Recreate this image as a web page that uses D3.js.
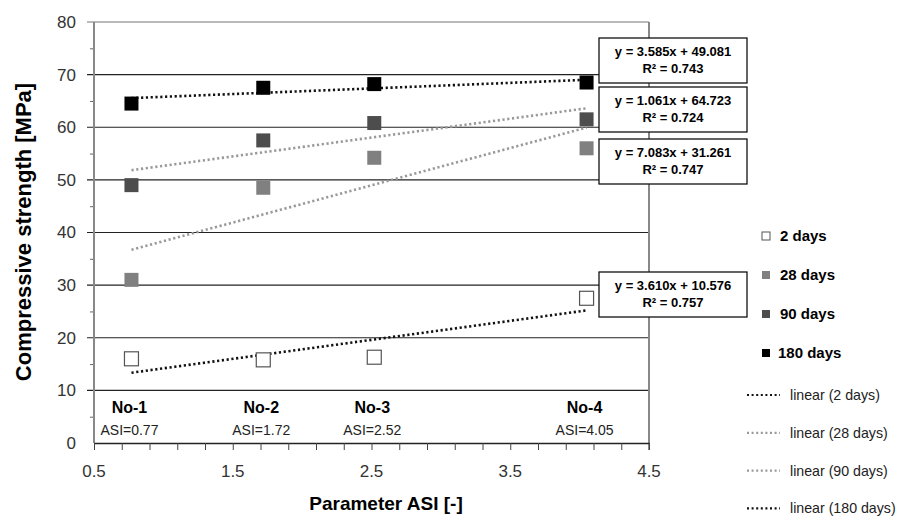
<!DOCTYPE html>
<html lang="en">
<head>
<meta charset="UTF-8">
<script src="https://cdn.jsdelivr.net/npm/d3@7/dist/d3.min.js"></script>
<title>Compressive strength vs ASI</title>
<style>
    body { margin: 0; background: #fff; }
    svg { font-family: Arial, "Liberation Sans", sans-serif; }
</style>
</head>
<body>
<script>
    // data
    var asi = [0.77, 1.72, 2.52, 4.05];
    var samples = ["No-1", "No-2", "No-3", "No-4"];
    var series = ["2 days", "28 days", "90 days", "180 days"];
    var days2 = [16.0, 15.8, 16.3, 27.5];
    var days28 = [31.0, 48.5, 54.2, 56.0];
    var days90 = [49.0, 57.5, 60.8, 61.5];
    var days180 = [64.5, 67.5, 68.2, 68.5];
    // trend lines: slope, intercept, r2
    var slopes = [3.610, 7.083, 3.585, 1.061];
    var intercepts = [10.576, 31.261, 49.081, 64.723];
    var r2 = [0.757, 0.747, 0.743, 0.724];
    var yTicks = [0, 10, 20, 30, 40, 50, 60, 70, 80];
    var xTicks = [0.5, 1.5, 2.5, 3.5, 4.5];

    var values = [days2, days28, days90, days180];
    var fills = ["#fff", "#808080", "#4d4d4d", "#000"];
    var strokes = ["#555", "#808080", "#4d4d4d", "#000"];
    var lineColors = ["#111", "#999", "#999", "#111"];

    var width = 898, height = 518;
    var svg = d3.select("body").append("svg").attr("width", width).attr("height", height);

    var x = d3.scaleLinear().domain([0.5, 4.5]).range([94, 649]);
    var y = d3.scaleLinear().domain([0, 80]).range([443, 22]);

    // grid lines
    svg.append("g").selectAll("line")
        .data(yTicks.slice(1))
        .enter().append("line")
        .attr("x1", x(0.5) - 7).attr("x2", x(4.5))
        .attr("y1", function(d) { return y(d); })
        .attr("y2", function(d) { return y(d); })
        .attr("stroke", function(d) { return d == 80 ? "#777" : "#222"; })
        .attr("stroke-width", 1.2);

    // y axis
    var yAxis = svg.append("g").attr("transform", "translate(" + x(0.5) + ",0)")
        .call(d3.axisLeft(y).tickValues(d3.range(5, 80, 10)).tickSize(4).tickFormat(""));
    yAxis.selectAll("line").attr("stroke", "#666");
    yAxis.select(".domain").remove();
    svg.append("line").attr("x1", x(0.5)).attr("x2", x(0.5)).attr("y1", y(80)).attr("y2", y(0))
        .attr("stroke", "#888").attr("stroke-width", 2);
    svg.append("line").attr("x1", x(4.5)).attr("x2", x(4.5)).attr("y1", y(80)).attr("y2", y(0) + 7)
        .attr("stroke", "#888").attr("stroke-width", 2);
    svg.append("g").selectAll("text")
        .data(yTicks)
        .enter().append("text")
        .attr("x", 76).attr("y", function(d) { return y(d); })
        .attr("dy", "0.35em").attr("text-anchor", "end")
        .attr("font-size", 17).attr("fill", "#333")
        .text(function(d) { return d; });

    // x axis
    var xAxis = svg.append("g").attr("transform", "translate(0," + y(0) + ")")
        .call(d3.axisBottom(x).tickValues(d3.range(0, 21).map(function(i) { return 0.5 + i * 0.2; }))
            .tickSize(7).tickFormat("").tickSizeOuter(0));
    xAxis.selectAll("line").attr("stroke", "#444");
    xAxis.select(".domain").attr("stroke", "#222").attr("stroke-width", 1.5);
    svg.append("g").selectAll("text")
        .data(xTicks)
        .enter().append("text")
        .attr("x", function(d) { return x(d); }).attr("y", 477)
        .attr("text-anchor", "middle").attr("font-size", 17).attr("fill", "#333")
        .text(d3.format(".1f"));

    // axis titles
    svg.append("text")
        .attr("transform", "translate(31,232) rotate(-90)")
        .attr("text-anchor", "middle").attr("font-size", 22).attr("font-weight", "bold")
        .text("Compressive strength [MPa]");
    svg.append("text")
        .attr("x", 386).attr("y", 510)
        .attr("text-anchor", "middle").attr("font-size", 19).attr("font-weight", "bold")
        .text("Parameter ASI [-]");

    // sample labels
    var lab = svg.append("g").selectAll("g")
        .data(asi)
        .enter().append("g");
    lab.append("text")
        .attr("x", function(d) { return x(d) - 2; }).attr("y", 413)
        .attr("text-anchor", "middle").attr("font-size", 16).attr("font-weight", "bold")
        .text(function(d, i) { return samples[i]; });
    lab.append("text")
        .attr("x", function(d) { return x(d) - 2; }).attr("y", 435)
        .attr("text-anchor", "middle").attr("font-size", 14).attr("fill", "#222")
        .text(function(d) { return "ASI=" + d; });

    // trend lines
    svg.append("g").selectAll("line")
        .data(slopes)
        .enter().append("line")
        .attr("x1", x(asi[0])).attr("x2", x(asi[3]))
        .attr("y1", function(d, i) { return y(d * asi[0] + intercepts[i]); })
        .attr("y2", function(d, i) { return y(d * asi[3] + intercepts[i]); })
        .attr("stroke", function(d, i) { return lineColors[i]; })
        .attr("stroke-width", 2.6)
        .attr("stroke-dasharray", "2.2 2.6");

    // points
    var sz = 14;
    values.forEach(function(vals, s) {
        svg.append("g").selectAll("rect")
            .data(vals)
            .enter().append("rect")
            .attr("x", function(d, i) { return x(asi[i]) - sz / 2; })
            .attr("y", function(d) { return y(d) - sz / 2; })
            .attr("width", sz).attr("height", sz)
            .attr("fill", fills[s])
            .attr("stroke", strokes[s])
            .attr("stroke-width", s == 0 ? 1.2 : 0);
    });

    // equation boxes (order as in the picture)
    var boxOrder = [2, 3, 1, 0];
    var boxTop = [38, 87, 139, 272];
    var boxes = svg.append("g").selectAll("g")
        .data(boxOrder)
        .enter().append("g")
        .attr("transform", function(d, i) { return "translate(599," + boxTop[i] + ")"; });
    boxes.append("rect")
        .attr("width", 148).attr("height", 45)
        .attr("fill", "#fff").attr("stroke", "#111").attr("stroke-width", 1.3);
    boxes.append("text")
        .attr("x", 74).attr("y", 18).attr("text-anchor", "middle")
        .attr("font-size", 13).attr("font-weight", "bold")
        .text(function(d) { return "y = " + slopes[d].toFixed(3) + "x + " + intercepts[d].toFixed(3); });
    boxes.append("text")
        .attr("x", 74).attr("y", 35).attr("text-anchor", "middle")
        .attr("font-size", 13).attr("font-weight", "bold")
        .text(function(d) { return "R\u00b2 = " + r2[d].toFixed(3); });

    // legend
    var leg = svg.append("g").selectAll("g")
        .data(series)
        .enter().append("g")
        .attr("transform", function(d, i) { return "translate(762," + (236 + i * 39) + ")"; });
    leg.append("rect")
        .attr("x", 0).attr("y", -4).attr("width", 8).attr("height", 8)
        .attr("fill", function(d, i) { return fills[i]; })
        .attr("stroke", function(d, i) { return strokes[i]; })
        .attr("stroke-width", function(d, i) { return i == 0 ? 1 : 0; });
    leg.append("text")
        .attr("x", function(d, i) { return i == 3 ? 16 : 18; }).attr("dy", "0.35em")
        .attr("font-size", 15).attr("font-weight", "bold")
        .text(function(d) { return d; });

    var leg2 = svg.append("g").selectAll("g")
        .data(series)
        .enter().append("g")
        .attr("transform", function(d, i) { return "translate(747," + (395 + i * 37.8) + ")"; });
    leg2.append("line")
        .attr("x1", 0).attr("x2", 33)
        .attr("stroke", function(d, i) { return lineColors[i]; })
        .attr("stroke-width", 2.2).attr("stroke-dasharray", "2 2.6");
    leg2.append("text")
        .attr("x", 43).attr("dy", "0.35em")
        .attr("font-size", 14.2).attr("fill", "#222")
        .text(function(d) { return "linear (" + d + ")"; });
</script>
</body>
</html>
